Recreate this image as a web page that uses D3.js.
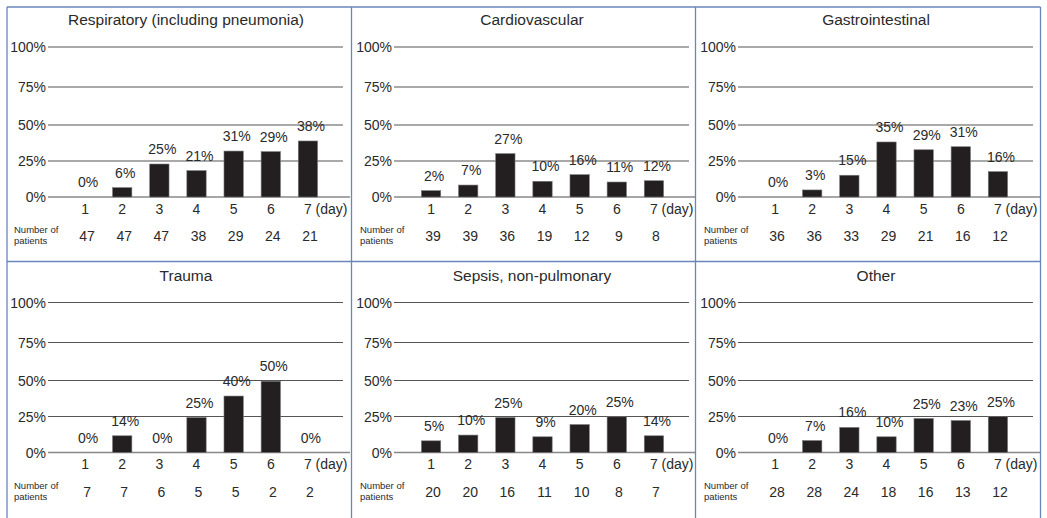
<!DOCTYPE html>
<html>
<head>
<meta charset="utf-8">
<script src="https://cdn.jsdelivr.net/npm/d3@7"></script>
<style>
  body { margin: 0; background: #fff; }
  svg { display: block; font-family: "Liberation Sans", Arial, sans-serif; }
  .grid { stroke: #555; stroke-width: 1.2px; }
  .base { stroke: #888; stroke-width: 1.4px; }
  .bar { fill: #231f20; stroke: #777; stroke-width: 0.6px; }
  .border { stroke: #6a86ba; stroke-width: 1.3px; }
  text { fill: #2a2a2a; }
</style>
</head>
<body>
<script>
const days = [1, 2, 3, 4, 5, 6, 7];
const yTicks = [0, 25, 50, 75, 100];

const titles = [
  "Respiratory (including pneumonia)",
  "Cardiovascular",
  "Gastrointestinal",
  "Trauma",
  "Sepsis, non-pulmonary",
  "Other"
];

// bar heights as drawn (%)
const respiratory = [0, 6.5, 22.9, 18.3, 31.9, 31.5, 38.9];
const cardiovascular = [4.4, 8.3, 30.1, 10.9, 15.5, 10.4, 11.3];
const gastrointestinal = [0, 4.9, 15.1, 38.2, 32.8, 34.9, 17.6];
const trauma = [0, 11.6, 0, 24.3, 39.2, 49.5, 0];
const sepsis = [8.1, 12.1, 24.3, 10.9, 19.4, 24.8, 11.6];
const other = [0, 8.3, 17.4, 10.9, 23.6, 22.2, 25.0];

// printed labels above the bars
const respiratoryLabels = ["0%", "6%", "25%", "21%", "31%", "29%", "38%"];
const cardiovascularLabels = ["2%", "7%", "27%", "10%", "16%", "11%", "12%"];
const gastrointestinalLabels = ["0%", "3%", "15%", "35%", "29%", "31%", "16%"];
const traumaLabels = ["0%", "14%", "0%", "25%", "40%", "50%", "0%"];
const sepsisLabels = ["5%", "10%", "25%", "9%", "20%", "25%", "14%"];
const otherLabels = ["0%", "7%", "16%", "10%", "25%", "23%", "25%"];

// number of patients per day
const respiratoryN = [47, 47, 47, 38, 29, 24, 21];
const cardiovascularN = [39, 39, 36, 19, 12, 9, 8];
const gastrointestinalN = [36, 36, 33, 29, 21, 16, 12];
const traumaN = [7, 7, 6, 5, 5, 2, 2];
const sepsisN = [20, 20, 16, 11, 10, 8, 7];
const otherN = [28, 28, 24, 18, 16, 13, 12];

const panels = [
  [respiratory, respiratoryLabels, respiratoryN],
  [cardiovascular, cardiovascularLabels, cardiovascularN],
  [gastrointestinal, gastrointestinalLabels, gastrointestinalN],
  [trauma, traumaLabels, traumaN],
  [sepsis, sepsisLabels, sepsisN],
  [other, otherLabels, otherN]
];

const W = 1047, H = 518;
const colX = [0, 346, 690];
const rowY = [0, 255.5];

const svg = d3.select("body").append("svg")
  .attr("width", W)
  .attr("height", H);

const x = d3.scaleBand()
  .domain(days)
  .range([66.5, 326.5])
  .paddingInner(0.48)
  .paddingOuter(0.24);

const y = d3.scaleLinear()
  .domain(yTicks)
  .range([197, 161, 125, 87, 47]);

panels.forEach(([vals, labels, counts], i) => {
  const g = svg.append("g")
    .attr("transform", `translate(${colX[i % 3]}, ${rowY[Math.floor(i / 3)]})`);

  g.append("text")
    .attr("x", 186).attr("y", 25)
    .attr("text-anchor", "middle")
    .style("font-size", "15.5px")
    .text(titles[i]);

  g.selectAll(".grid").data(yTicks.slice(1)).join("line")
    .attr("class", "grid")
    .attr("x1", 48).attr("x2", 343)
    .attr("y1", d => y(d)).attr("y2", d => y(d));

  g.append("line").attr("class", "base")
    .attr("x1", 48).attr("x2", 350)
    .attr("y1", y(0)).attr("y2", y(0));

  g.selectAll(".ytick").data(yTicks).join("text")
    .attr("class", "ytick")
    .attr("x", 46).attr("y", d => y(d))
    .attr("dy", "0.36em")
    .attr("text-anchor", "end")
    .style("font-size", "14px")
    .text(d => d + "%");

  g.selectAll(".bar").data(vals).join("rect")
    .attr("class", "bar")
    .attr("x", (d, j) => x(days[j]))
    .attr("width", x.bandwidth())
    .attr("y", d => y(d))
    .attr("height", d => y(0) - y(d))
    .style("display", d => d > 0 ? null : "none");

  g.selectAll(".vlab").data(vals).join("text")
    .attr("class", "vlab")
    .attr("x", (d, j) => x(days[j]) + x.bandwidth() / 2 + 3)
    .attr("y", d => y(d) - 10)
    .attr("text-anchor", "middle")
    .style("font-size", "14px")
    .text((d, j) => labels[j]);

  const ax = g.append("g")
    .attr("transform", `translate(0, ${y(0) + 3})`)
    .call(d3.axisBottom(x).tickSize(0).tickPadding(4)
      .tickFormat(d => d === 7 ? "7 (day)" : d));
  ax.select(".domain").remove();
  ax.selectAll("text")
    .attr("fill", "#2a2a2a")
    .style("font-size", "14px")
    .style("font-family", "Liberation Sans, Arial, sans-serif");
  ax.selectAll(".tick").filter(d => d === 7).select("text")
    .attr("text-anchor", "start")
    .attr("x", -4);

  g.append("text").attr("x", 14).attr("y", 233)
    .style("font-size", "9.5px").text("Number of");
  g.append("text").attr("x", 14).attr("y", 244)
    .style("font-size", "9.5px").text("patients");

  g.selectAll(".nlab").data(counts).join("text")
    .attr("class", "nlab")
    .attr("x", (d, j) => x(days[j]) + x.bandwidth() / 2 + 2)
    .attr("y", 241)
    .attr("text-anchor", "middle")
    .style("font-size", "14px")
    .text(d => d);
});

// panel frames
const vx = [7, 351.5, 695.5, 1040.5];
svg.selectAll(".vb").data(vx).join("line")
  .attr("class", "border")
  .attr("x1", d => d).attr("x2", d => d)
  .attr("y1", 7).attr("y2", H);
svg.selectAll(".hb").data([7, 261.5]).join("line")
  .attr("class", "border")
  .attr("x1", vx[0]).attr("x2", vx[3])
  .attr("y1", d => d).attr("y2", d => d);
</script>
</body>
</html>
